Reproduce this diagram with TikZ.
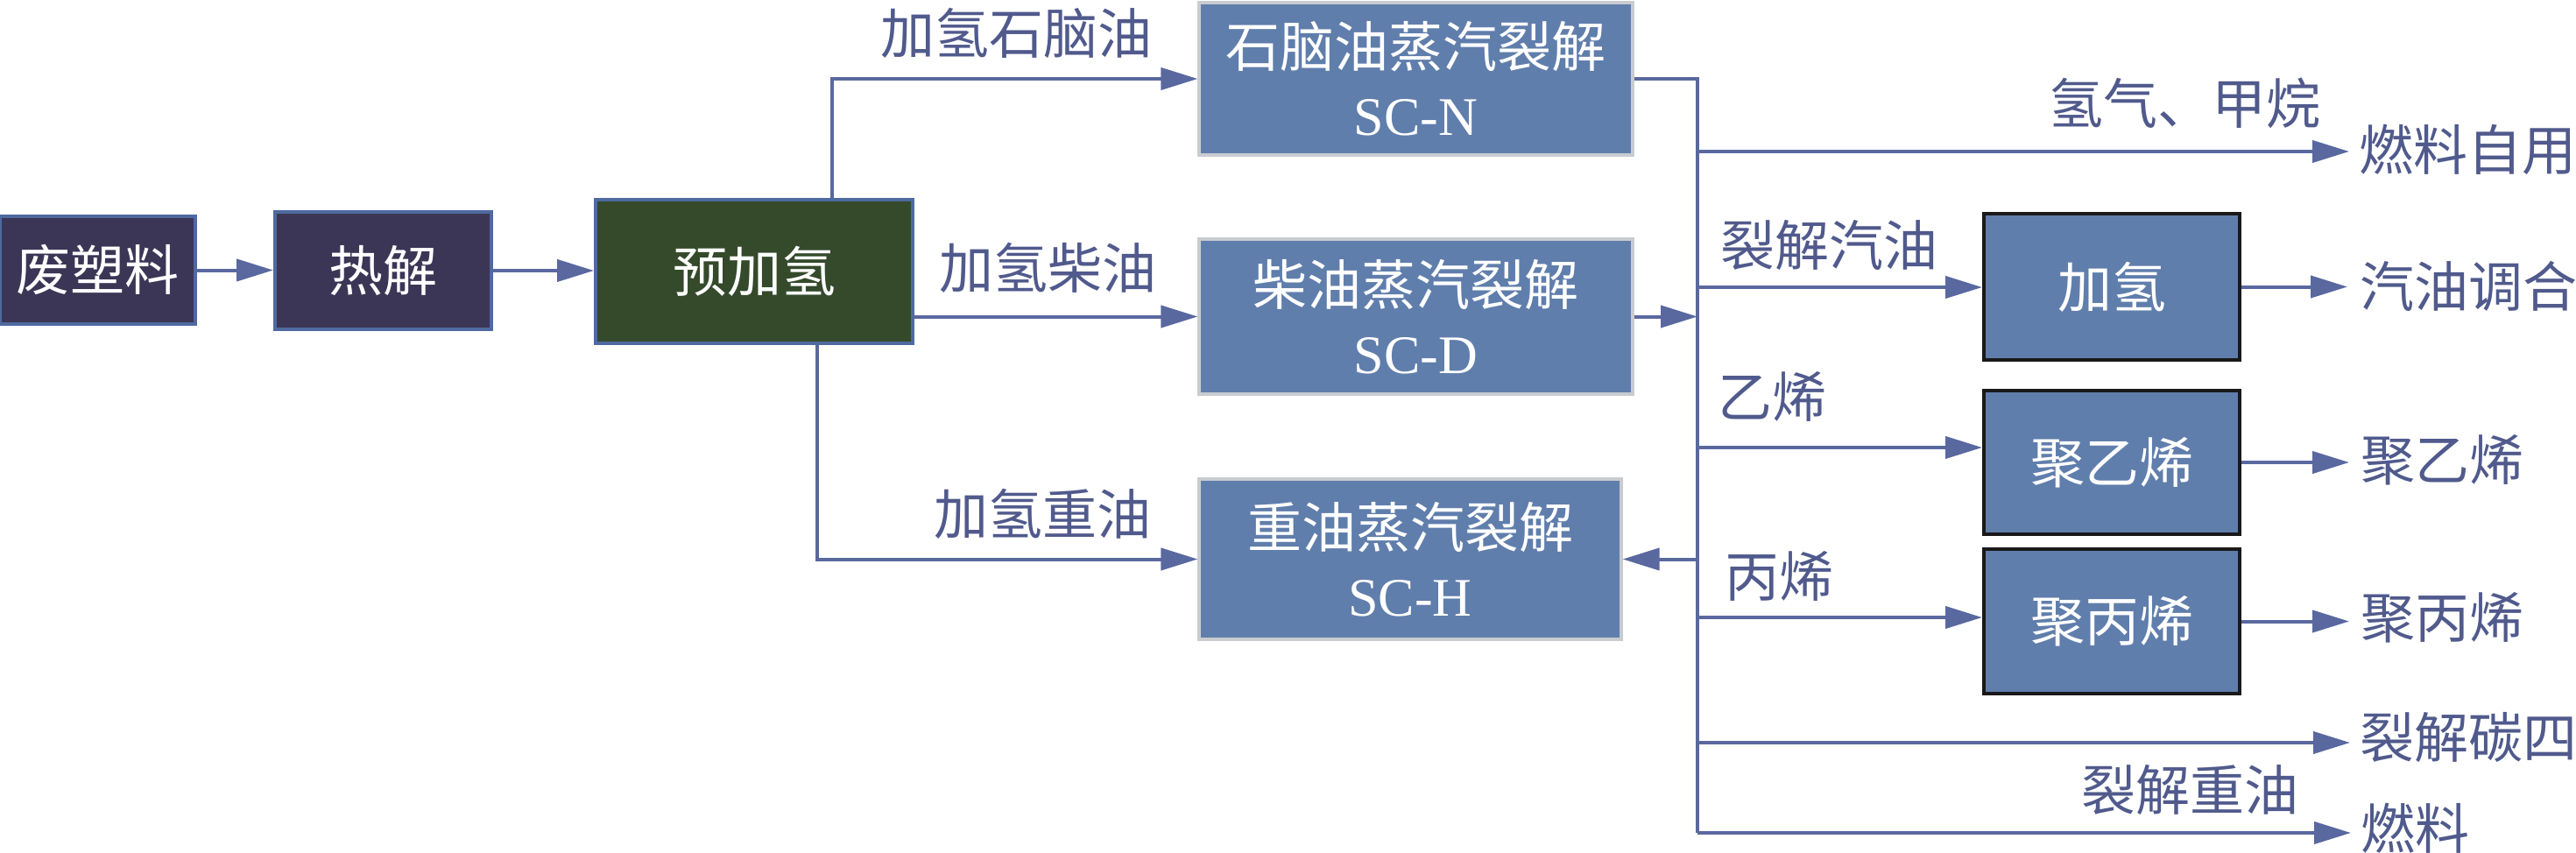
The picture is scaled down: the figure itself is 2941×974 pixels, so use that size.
\documentclass[tikz,border=0pt]{standalone}
\usepackage{fontspec}
\setmainfont{Liberation Serif}
\newfontfamily\cjk{Noto Sans CJK SC}
\usetikzlibrary{arrows.meta}
\definecolor{ln}{RGB}{90,104,160}
\definecolor{lbltxt}{RGB}{80,90,140}
\definecolor{scfill}{RGB}{96,126,172}
\definecolor{scgray}{RGB}{200,204,208}
\definecolor{purp}{RGB}{59,54,86}
\definecolor{grn}{RGB}{52,74,43}
\definecolor{bdblue}{RGB}{78,106,160}
\begin{document}
\begin{tikzpicture}[x=0.5pt,y=-0.5pt,
  lnk/.style={draw=ln,line width=2pt},
  arr/.style={lnk,-{Triangle[length=21pt,width=12.5pt]}},
  base/.style={inner sep=0pt,font=\fontsize{31}{39}\selectfont\cjk},
  lbl/.style={base,text=lbltxt},
  outlbl/.style={lbl,anchor=west},
  darkbox/.style={base,draw=bdblue,line width=2pt,text=white},
  scbox/.style={base,fill=scfill,draw=scgray,line width=1.6pt,text=white,align=center},
  prodbox/.style={base,fill=scfill,draw=black!90,line width=2pt,text=white}]
\useasboundingbox (0,0) rectangle (2941,974);
\fill[white] (0,0) rectangle (2941,974);

% boxes
\node[darkbox,fill=purp,minimum width=111.5pt,minimum height=61.5pt] (waste) at (111.5,308.5) {废塑料};
\node[darkbox,fill=purp,minimum width=123.5pt,minimum height=67pt] (pyro) at (437.5,309) {热解};
\node[darkbox,fill=grn,minimum width=181pt,minimum height=82pt] (pre) at (861,310) {预加氢};
\node[scbox,minimum width=247.5pt,minimum height=87pt] (scn) at (1616.5,90) {石脑油蒸汽裂解\\{\rmfamily SC-N}};
\node[scbox,minimum width=247.5pt,minimum height=88.5pt] (scd) at (1616.5,361.5) {柴油蒸汽裂解\\{\rmfamily SC-D}};
\node[scbox,minimum width=241pt,minimum height=91.5pt] (sch) at (1610,638.5) {重油蒸汽裂解\\{\rmfamily SC-H}};
\node[prodbox,minimum width=146pt,minimum height=83.5pt] (hyd) at (2411,327.5) {加氢};
\node[prodbox,minimum width=146pt,minimum height=82pt] (pe) at (2411,528) {聚乙烯};
\node[prodbox,minimum width=146pt,minimum height=82.5pt] (pp) at (2411,709.5) {聚丙烯};

% labels
\node[lbl] (lnaph) at (1160,38) {加氢石脑油};
\node[lbl] (ldies) at (1196,306) {加氢柴油};
\node[lbl] (lheavy) at (1190,587) {加氢重油};
\node[lbl] (lh2) at (2494,118) {氢气、甲烷};
\node[lbl] (lgas) at (2088,280) {裂解汽油};
\node[lbl] (leth) at (2023,453) {乙烯};
\node[lbl] (lprop) at (2031,658) {丙烯};
\node[lbl] (lcho) at (2500,902) {裂解重油};

% outputs
\node[outlbl] (o1) at (2693,171) {燃料自用};
\node[outlbl] (o2) at (2694,327) {汽油调合};
\node[outlbl] (o3) at (2695,525) {聚乙烯};
\node[outlbl] (o4) at (2695,705) {聚丙烯};
\node[outlbl] (o5) at (2694,842) {裂解碳四};
\node[outlbl] (o6) at (2695,946) {燃料};

% coordinates
\coordinate (tapn) at (950,0);
\coordinate (taph) at (933,0);
\coordinate (bus) at (1938,0);
\coordinate (busend) at (1938,951);
\coordinate (b1) at (1938,173);
\coordinate (b2) at (1938,328);
\coordinate (b3) at (1938,511);
\coordinate (b4) at (1938,705);
\coordinate (b5) at (1938,848);

% left chain
\draw[arr] (waste.east) -- (pyro.west |- waste.east);
\draw[arr] (pyro.east) -- (pre.west |- pyro.east);
\draw[arr] (pre.north -| tapn) |- (scn.west);
\draw[arr] (pre.east |- scd.west) -- (scd.west);
\draw[arr] (pre.south -| taph) |- (sch.west);

% bus
\draw[lnk] (scn.east) -| (busend);
\draw[arr] (scd.east) -- (scd.east -| bus);
\draw[arr] (sch.east -| bus) -- (sch.east);

% branches
\draw[arr,shorten >=5.5pt] (b1) -- (b1 -| o1.west);
\draw[arr] (b2) -- (b2 -| hyd.west);
\draw[arr] (b3) -- (b3 -| pe.west);
\draw[arr] (b4) -- (b4 -| pp.west);
\draw[arr,shorten >=5.5pt] (b5) -- (b5 -| o5.west);
\draw[arr,shorten >=5.5pt] (busend) -- (busend -| o6.west);

% product outputs
\draw[arr,shorten >=7pt] (hyd.east) -- (hyd.east -| o2.west);
\draw[arr,shorten >=6.5pt] (pe.east) -- (pe.east -| o3.west);
\draw[arr,shorten >=6.5pt] (pp.east) -- (pp.east -| o4.west);
\end{tikzpicture}
\end{document}
